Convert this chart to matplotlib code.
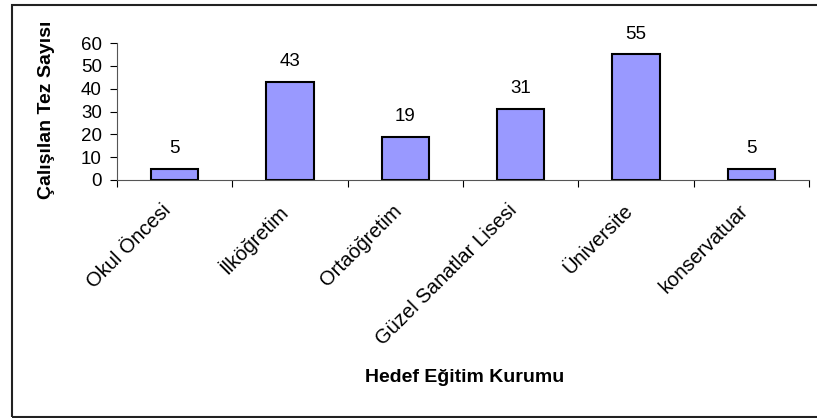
import numpy as np
import matplotlib.pyplot as plt
from matplotlib.patches import Rectangle
from matplotlib.transforms import ScaledTranslation

# Veriler
kurumlar = ['Okul Öncesi', 'İlköğretim', 'Ortaöğretim', 'Güzel Sanatlar Lisesi',
            'Üniversite', 'konservatuar']
tez_sayisi = [5, 43, 19, 31, 55, 5]
y_ticks = [0, 10, 20, 30, 40, 50, 60]

plt.rcParams['font.family'] = ['Liberation Sans', 'DejaVu Sans']

fig = plt.figure(figsize=(8.17, 4.18), dpi=100)

# Dış çerçeve
fig.patches.append(Rectangle((12 / 817, 1 - 417 / 418), 1.0, (417 - 5) / 418,
                             transform=fig.transFigure, fill=False,
                             edgecolor='#222222', linewidth=1.5))

ax = fig.add_axes([117 / 817, 1 - 180 / 418, (809 - 117) / 817, (180 - 43) / 418])

x = np.arange(len(kurumlar))
ax.bar(x, tez_sayisi, width=0.41, color='#9999FF', edgecolor='black', linewidth=1.5)

for xi, v in zip(x, tez_sayisi):
    ax.annotate(str(v), (xi, v), xytext=(0, 8.5), textcoords='offset points',
                ha='center', va='bottom', fontsize=13.5)

ax.set_xlim(-0.5, len(kurumlar) - 0.5)
ax.set_ylim(0, 60)
ax.set_yticks(y_ticks)
ax.tick_params(axis='y', labelsize=13.5, length=5, direction='out', pad=6)

# Kategori sınırlarında işaretler
ax.set_xticks(np.arange(len(kurumlar) + 1) - 0.5)
ax.set_xticklabels([])
ax.tick_params(axis='x', length=5, direction='out')
ax.set_xticks(x, minor=True)
ax.set_xticklabels(kurumlar, minor=True, rotation=45, ha='right',
                   rotation_mode='anchor', fontsize=14.5)
ax.tick_params(axis='x', which='minor', length=0, pad=12)

# etiketleri biraz sola kaydır
kaydir = ScaledTranslation(-13 / 100, -4 / 100, fig.dpi_scale_trans)
for lbl in ax.get_xticklabels(minor=True):
    lbl.set_transform(lbl.get_transform() + kaydir)

for s in ['top', 'right']:
    ax.spines[s].set_visible(False)
for s in ['left', 'bottom']:
    ax.spines[s].set_color('#555555')

fig.text(47 / 817, 1 - 110 / 418, 'Çalışılan Tez Sayısı', fontsize=14,
         fontweight='bold', rotation=90, ha='center', va='center')
fig.text(465 / 817, 1 - 378 / 418, 'Hedef Eğitim Kurumu', fontsize=14,
         fontweight='bold', ha='center', va='center')

fig.savefig('out.png', dpi=100)
